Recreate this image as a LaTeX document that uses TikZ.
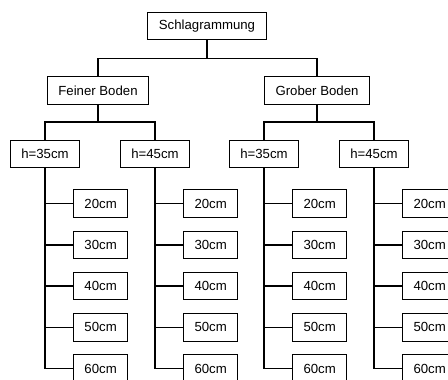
\documentclass[tikz,border=0pt]{standalone}
\usepackage{fontspec}
\setmainfont{Liberation Sans}
\usepackage{tikz}
\usetikzlibrary{positioning,calc}

\tikzset{
  kasten/.style={draw, line width=1pt, inner xsep=11pt, inner ysep=0pt,
    minimum height=27.5pt, font=\fontsize{13.2}{15}\selectfont},
  ast/.style={line width=1.3pt}
}

\begin{document}
\begin{tikzpicture}[x=1pt,y=-1pt]
        \clip (0,0) rectangle (448,380);

        \node[kasten] (wurzel) at (207,26) {Schlagrammung};
        \node[kasten] (fein) at (98,90.5) {Feiner Boden};
        \node[kasten] (grob) at (317,90.5) {Grober Boden};

        \coordinate (b0) at (207,58.7);
        \draw[ast] (wurzel.south) -- (b0);
        \draw[ast] (fein.north) |- (b0) -| (grob.north);

        % Hoehen
        \node[kasten] (h1) at (45,154) {h=35cm};
        \node[kasten] (h2) at (155,154) {h=45cm};
        \node[kasten] (h3) at (264,154) {h=35cm};
        \node[kasten] (h4) at (374,154) {h=45cm};

        \coordinate (b1) at (98,122);
        \coordinate (b2) at (317,122);
        \draw[ast] (fein.south) -- (b1);
        \draw[ast] (h1.north) |- (b1) -| (h2.north);
        \draw[ast] (grob.south) -- (b2);
        \draw[ast] (h3.north) |- (b2) -| (h4.north);

        % Tiefen
        \foreach \h/\x in {h1/45,h2/155,h3/264,h4/374} {
          \foreach \t [count=\k from 0] in {20,30,40,50,60} {
            \node[kasten, anchor=west] (\h-\t) at (\x+28,203.7+41.2*\k) {\t cm};
            \draw[ast] (\h.south) |- (\h-\t.west);
          }
        }
    \end{tikzpicture}
\end{document}
